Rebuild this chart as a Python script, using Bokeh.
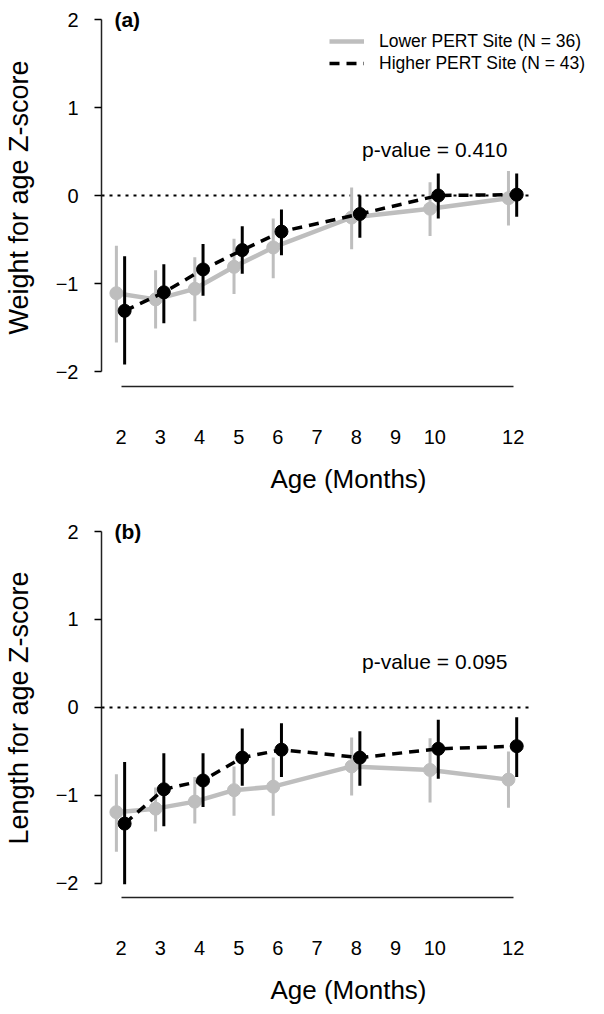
from bokeh.plotting import figure
from bokeh.layouts import column
from bokeh.models import FixedTicker, Legend, LegendItem, Label
from bokeh.embed import file_html
from bokeh.resources import INLINE

# ---------------- data ----------------
ages = [2, 3, 4, 5, 6, 8, 10, 12]
x_ticks = [2, 3, 4, 5, 6, 7, 8, 9, 10, 12]
y_ticks = [-2, -1, 0, 1, 2]

series_lower = "Lower PERT Site (N = 36)"
series_higher = "Higher PERT Site (N = 43)"

# Panel (a): Weight for age Z-score
waz_lower = [-1.11, -1.18, -1.06, -0.81, -0.59, -0.25, -0.15, -0.03]
waz_lower_lo = [-1.67, -1.51, -1.43, -1.12, -0.94, -0.61, -0.46, -0.34]
waz_lower_hi = [-0.57, -0.85, -0.70, -0.49, -0.26, 0.09, 0.15, 0.28]
waz_higher = [-1.31, -1.10, -0.84, -0.62, -0.41, -0.21, 0.00, 0.01]
waz_higher_lo = [-1.92, -1.45, -1.14, -0.89, -0.68, -0.48, -0.26, -0.24]
waz_higher_hi = [-0.69, -0.78, -0.55, -0.35, -0.16, 0.00, 0.25, 0.25]

# Panel (b): Length for age Z-score
laz_lower = [-1.19, -1.15, -1.07, -0.94, -0.90, -0.67, -0.71, -0.82]
laz_lower_lo = [-1.64, -1.41, -1.32, -1.23, -1.23, -1.00, -1.08, -1.14]
laz_lower_hi = [-0.76, -0.91, -0.79, -0.67, -0.57, -0.34, -0.35, -0.50]
laz_higher = [-1.32, -0.93, -0.83, -0.57, -0.48, -0.57, -0.47, -0.44]
laz_higher_lo = [-2.01, -1.35, -1.13, -0.89, -0.79, -0.89, -0.81, -0.79]
laz_higher_hi = [-0.62, -0.52, -0.52, -0.24, -0.18, -0.27, -0.14, -0.11]

panel_titles = ["(a)", "(b)"]
y_labels = ["Weight for age Z-score", "Length for age Z-score"]
p_values = ["p-value = 0.410", "p-value = 0.095"]
x_label = "Age (Months)"

# ---------------- style ----------------
FONT = "Liberation Sans"
GRAY = "#BEBEBE"
BLACK = "#000000"
OFF_LOW = -0.12
OFF_HIGH = 0.09
XLIM = (1.5, 12.5)
PVAL_POS = (10, 0.52)


def make_panel(idx, low, low_lo, low_hi, high, high_lo, high_hi,
               y_start, y_end, frame_h, top_border, bottom_border, legend):
    p = figure(frame_width=494, frame_height=frame_h,
               x_range=(1.5, 14.1), y_range=(y_start, y_end),
               output_backend="svg", toolbar_location=None,
               min_border_left=101, min_border_right=0,
               min_border_top=top_border, min_border_bottom=bottom_border)
    p.outline_line_color = None
    p.xgrid.visible = False
    p.ygrid.visible = False
    p.background_fill_color = "white"
    p.border_fill_color = "white"

    # zero reference line
    p.segment(x0=[XLIM[0]], y0=[0], x1=[XLIM[1]], y1=[0],
              line_color=BLACK, line_width=2, line_dash="3 5")

    xl = [a + OFF_LOW for a in ages]
    xh = [a + OFF_HIGH for a in ages]

    # lower site (gray)
    p.segment(x0=xl, y0=low_lo, x1=xl, y1=low_hi, line_color=GRAY, line_width=3)
    r_low = p.line(xl, low, line_color=GRAY, line_width=4.5)
    p.scatter(xl, low, size=13, fill_color=GRAY, line_color=GRAY)

    # higher site (black)
    p.segment(x0=xh, y0=high_lo, x1=xh, y1=high_hi, line_color=BLACK, line_width=3)
    r_high = p.line(xh, high, line_color=BLACK, line_width=3.5, line_dash="10 7")
    p.scatter(xh, high, size=13, fill_color=BLACK, line_color=BLACK)

    # axes
    xa = p.xaxis[0]
    xa.ticker = FixedTicker(ticks=x_ticks)
    xa.bounds = (2, 12)
    xa.major_tick_out = 0
    xa.major_tick_in = 0
    xa.minor_tick_out = 0
    xa.minor_tick_in = 0
    xa.axis_line_color = "#222222"
    xa.axis_line_width = 1.5
    xa.major_label_standoff = 43
    xa.major_label_text_font = FONT
    xa.major_label_text_font_size = "20px"
    xa.major_label_text_color = BLACK
    xa.axis_label = x_label
    xa.axis_label_text_font = FONT
    xa.axis_label_text_font_size = "26px"
    xa.axis_label_text_font_style = "normal"
    xa.axis_label_text_color = BLACK
    xa.axis_label_standoff = 17

    ya = p.yaxis[0]
    ya.ticker = FixedTicker(ticks=y_ticks)
    ya.bounds = (-2, 2)
    ya.major_tick_out = 7
    ya.major_tick_in = 0
    ya.minor_tick_out = 0
    ya.minor_tick_in = 0
    ya.axis_line_color = "#222222"
    ya.axis_line_width = 1.5
    ya.major_tick_line_width = 1.5
    ya.major_label_standoff = 16
    ya.major_label_text_font = FONT
    ya.major_label_text_font_size = "20px"
    ya.major_label_text_color = BLACK
    ya.axis_label = y_labels[idx]
    ya.axis_label_text_font = FONT
    ya.axis_label_text_font_size = "27px"
    ya.axis_label_text_font_style = "normal"
    ya.axis_label_text_color = BLACK
    ya.axis_label_standoff = 19

    # panel label and p-value
    p.add_layout(Label(x=1.83, y=2.0, text=panel_titles[idx],
                       text_font=FONT, text_font_size="21px",
                       text_font_style="bold", text_baseline="middle",
                       text_align="left", text_color=BLACK))
    p.add_layout(Label(x=PVAL_POS[0], y=PVAL_POS[1], text=p_values[idx],
                       text_font=FONT, text_font_size="21px",
                       text_baseline="middle", text_align="center",
                       text_color=BLACK))

    if legend:
        leg = Legend(items=[LegendItem(label=series_lower, renderers=[r_low]),
                            LegendItem(label=series_higher, renderers=[r_high])],
                     location=(228, 312), orientation="vertical",
                     padding=0, margin=0, spacing=0,
                     glyph_width=35, glyph_height=22, label_height=22,
                     label_standoff=15,
                     label_text_font=FONT, label_text_font_size="17.5px",
                     label_text_color=BLACK,
                     border_line_color=None, background_fill_alpha=0)
        p.add_layout(leg, "center")
    return p


pa = make_panel(0, waz_lower, waz_lower_lo, waz_lower_hi,
                waz_higher, waz_higher_lo, waz_higher_hi,
                -2.17, 2.125, 378, 8, 132, True)
pb = make_panel(1, laz_lower, laz_lower_lo, laz_lower_hi,
                laz_higher, laz_higher_lo, laz_higher_hi,
                -2.16, 2.148, 379, 0, 109, False)

layout = column(pa, pb, spacing=0)
open("out.html", "w").write(file_html(layout, INLINE))
